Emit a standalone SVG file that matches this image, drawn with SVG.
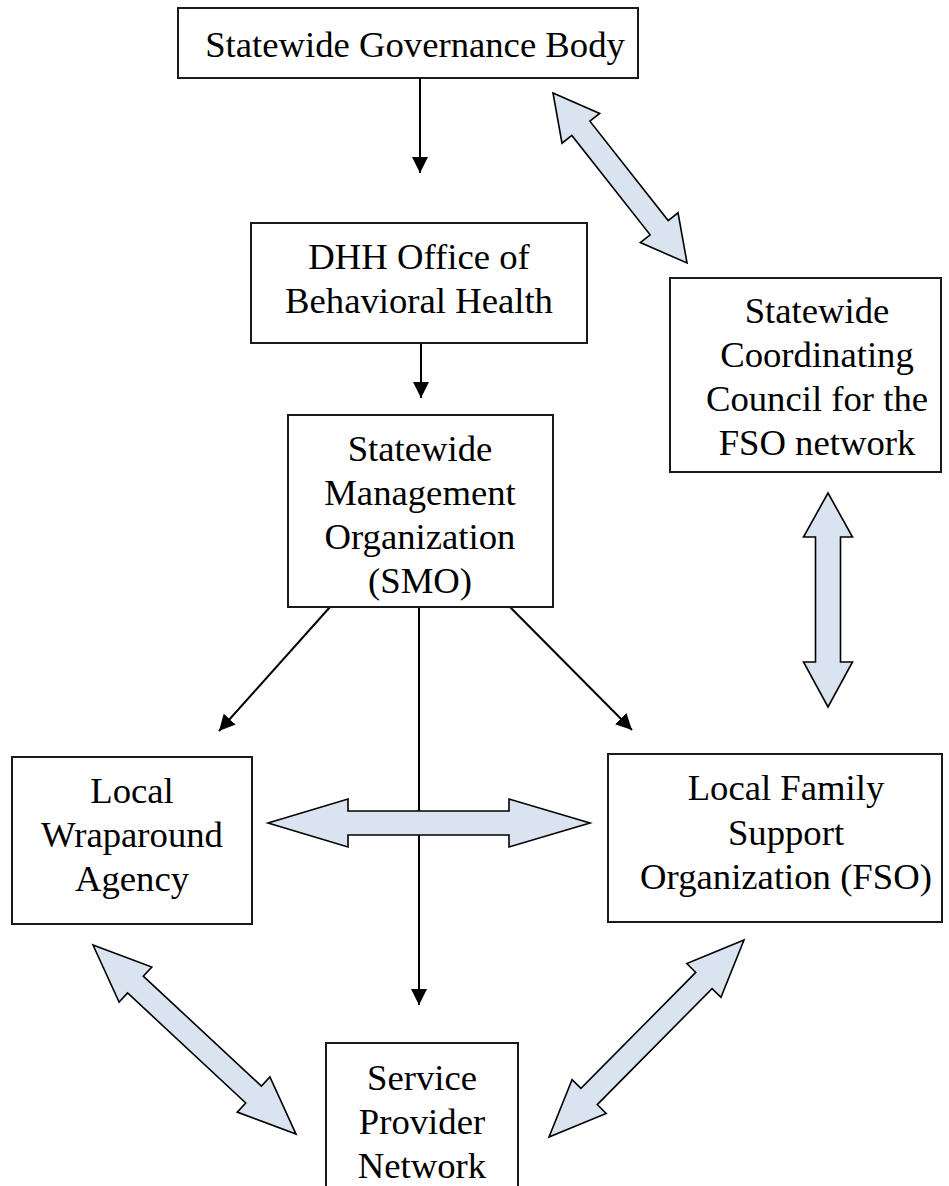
<svg xmlns="http://www.w3.org/2000/svg" width="949" height="1186" viewBox="0 0 949 1186">
<style>
.box{fill:#ffffff;stroke:#1a1a1a;stroke-width:2}
.t{font-family:"Liberation Serif","Times New Roman",serif;font-size:36.7px;fill:#000;text-anchor:middle}
.ln{stroke:#000;stroke-width:2;fill:none;marker-end:url(#ah)}
.blk{fill:#dae3f0;stroke:#000;stroke-width:1.6;stroke-linejoin:miter}
</style>
<defs>
<marker id="ah" markerUnits="userSpaceOnUse" markerWidth="16" markerHeight="16" viewBox="0 0 16 16" refX="16" refY="8" orient="auto">
<path d="M0,0 L16,8 L0,16 Z" fill="#000"/>
</marker>
</defs>
<rect width="949" height="1186" fill="#ffffff"/>
<g id="connectors">
<line class="ln" x1="420" y1="78" x2="420" y2="173"/>
<line class="ln" x1="421" y1="343" x2="421" y2="398"/>
<line class="ln" x1="330" y1="607" x2="219" y2="731"/>
<line class="ln" x1="510" y1="607" x2="632" y2="730"/>
<line class="ln" x1="419" y1="607" x2="419" y2="1005"/>
<polygon class="blk" points="268,823 348,799 348,811 509,811 509,799 590,823 509,847 509,835 348,835 348,847"/>
<polygon class="blk" points="828,493 852.5,537 840.5,537 840.5,662 852.5,662 828,707 803.5,662 815.5,662 815.5,537 803.5,537"/>
<polygon class="blk" transform="translate(553,93) rotate(51.75)" points="0,0 45,-24 45,-11.5 171.5,-11.5 171.5,-24 216.5,0 171.5,24 171.5,11.5 45,11.5 45,24"/>
<polygon class="blk" transform="translate(93,945) rotate(42.96)" points="0,0 58,-24 58,-11.5 219.4,-11.5 219.4,-24 277.4,0 219.4,24 219.4,11.5 58,11.5 58,24"/>
<polygon class="blk" transform="translate(744,940) rotate(134.7)" points="0,0 57,-24 57,-11.5 220.2,-11.5 220.2,-24 277.2,0 220.2,24 220.2,11.5 57,11.5 57,24"/>
</g>
<g id="governance">
<rect class="box" x="178" y="8" width="460" height="70"/>
<text class="t" x="415" y="57">Statewide Governance Body</text>
</g>
<g id="dhh">
<rect class="box" x="251" y="223" width="336" height="120"/>
<text class="t" x="419" y="269">DHH Office of</text>
<text class="t" x="419" y="313">Behavioral Health</text>
</g>
<g id="smo">
<rect class="box" x="288" y="415" width="265" height="192"/>
<text class="t" x="420" y="461">Statewide</text>
<text class="t" x="420" y="505">Management</text>
<text class="t" x="420" y="549">Organization</text>
<text class="t" x="420" y="593">(SMO)</text>
</g>
<g id="council">
<rect class="box" x="670" y="278" width="271" height="194"/>
<text class="t" x="817" y="323">Statewide</text>
<text class="t" x="817" y="367">Coordinating</text>
<text class="t" x="817" y="411">Council for the</text>
<text class="t" x="817" y="455">FSO network</text>
</g>
<g id="wraparound">
<rect class="box" x="12" y="757" width="240" height="167"/>
<text class="t" x="132" y="803">Local</text>
<text class="t" x="132" y="847">Wraparound</text>
<text class="t" x="132" y="891">Agency</text>
</g>
<g id="fso">
<rect class="box" x="608" y="754" width="334" height="168"/>
<text class="t" x="786" y="800">Local Family</text>
<text class="t" x="786" y="845">Support</text>
<text class="t" x="786" y="889">Organization (FSO)</text>
</g>
<g id="provider">
<rect class="box" x="326" y="1043" width="192" height="160"/>
<text class="t" x="422" y="1090">Service</text>
<text class="t" x="422" y="1134">Provider</text>
<text class="t" x="422" y="1178">Network</text>
</g>
</svg>
